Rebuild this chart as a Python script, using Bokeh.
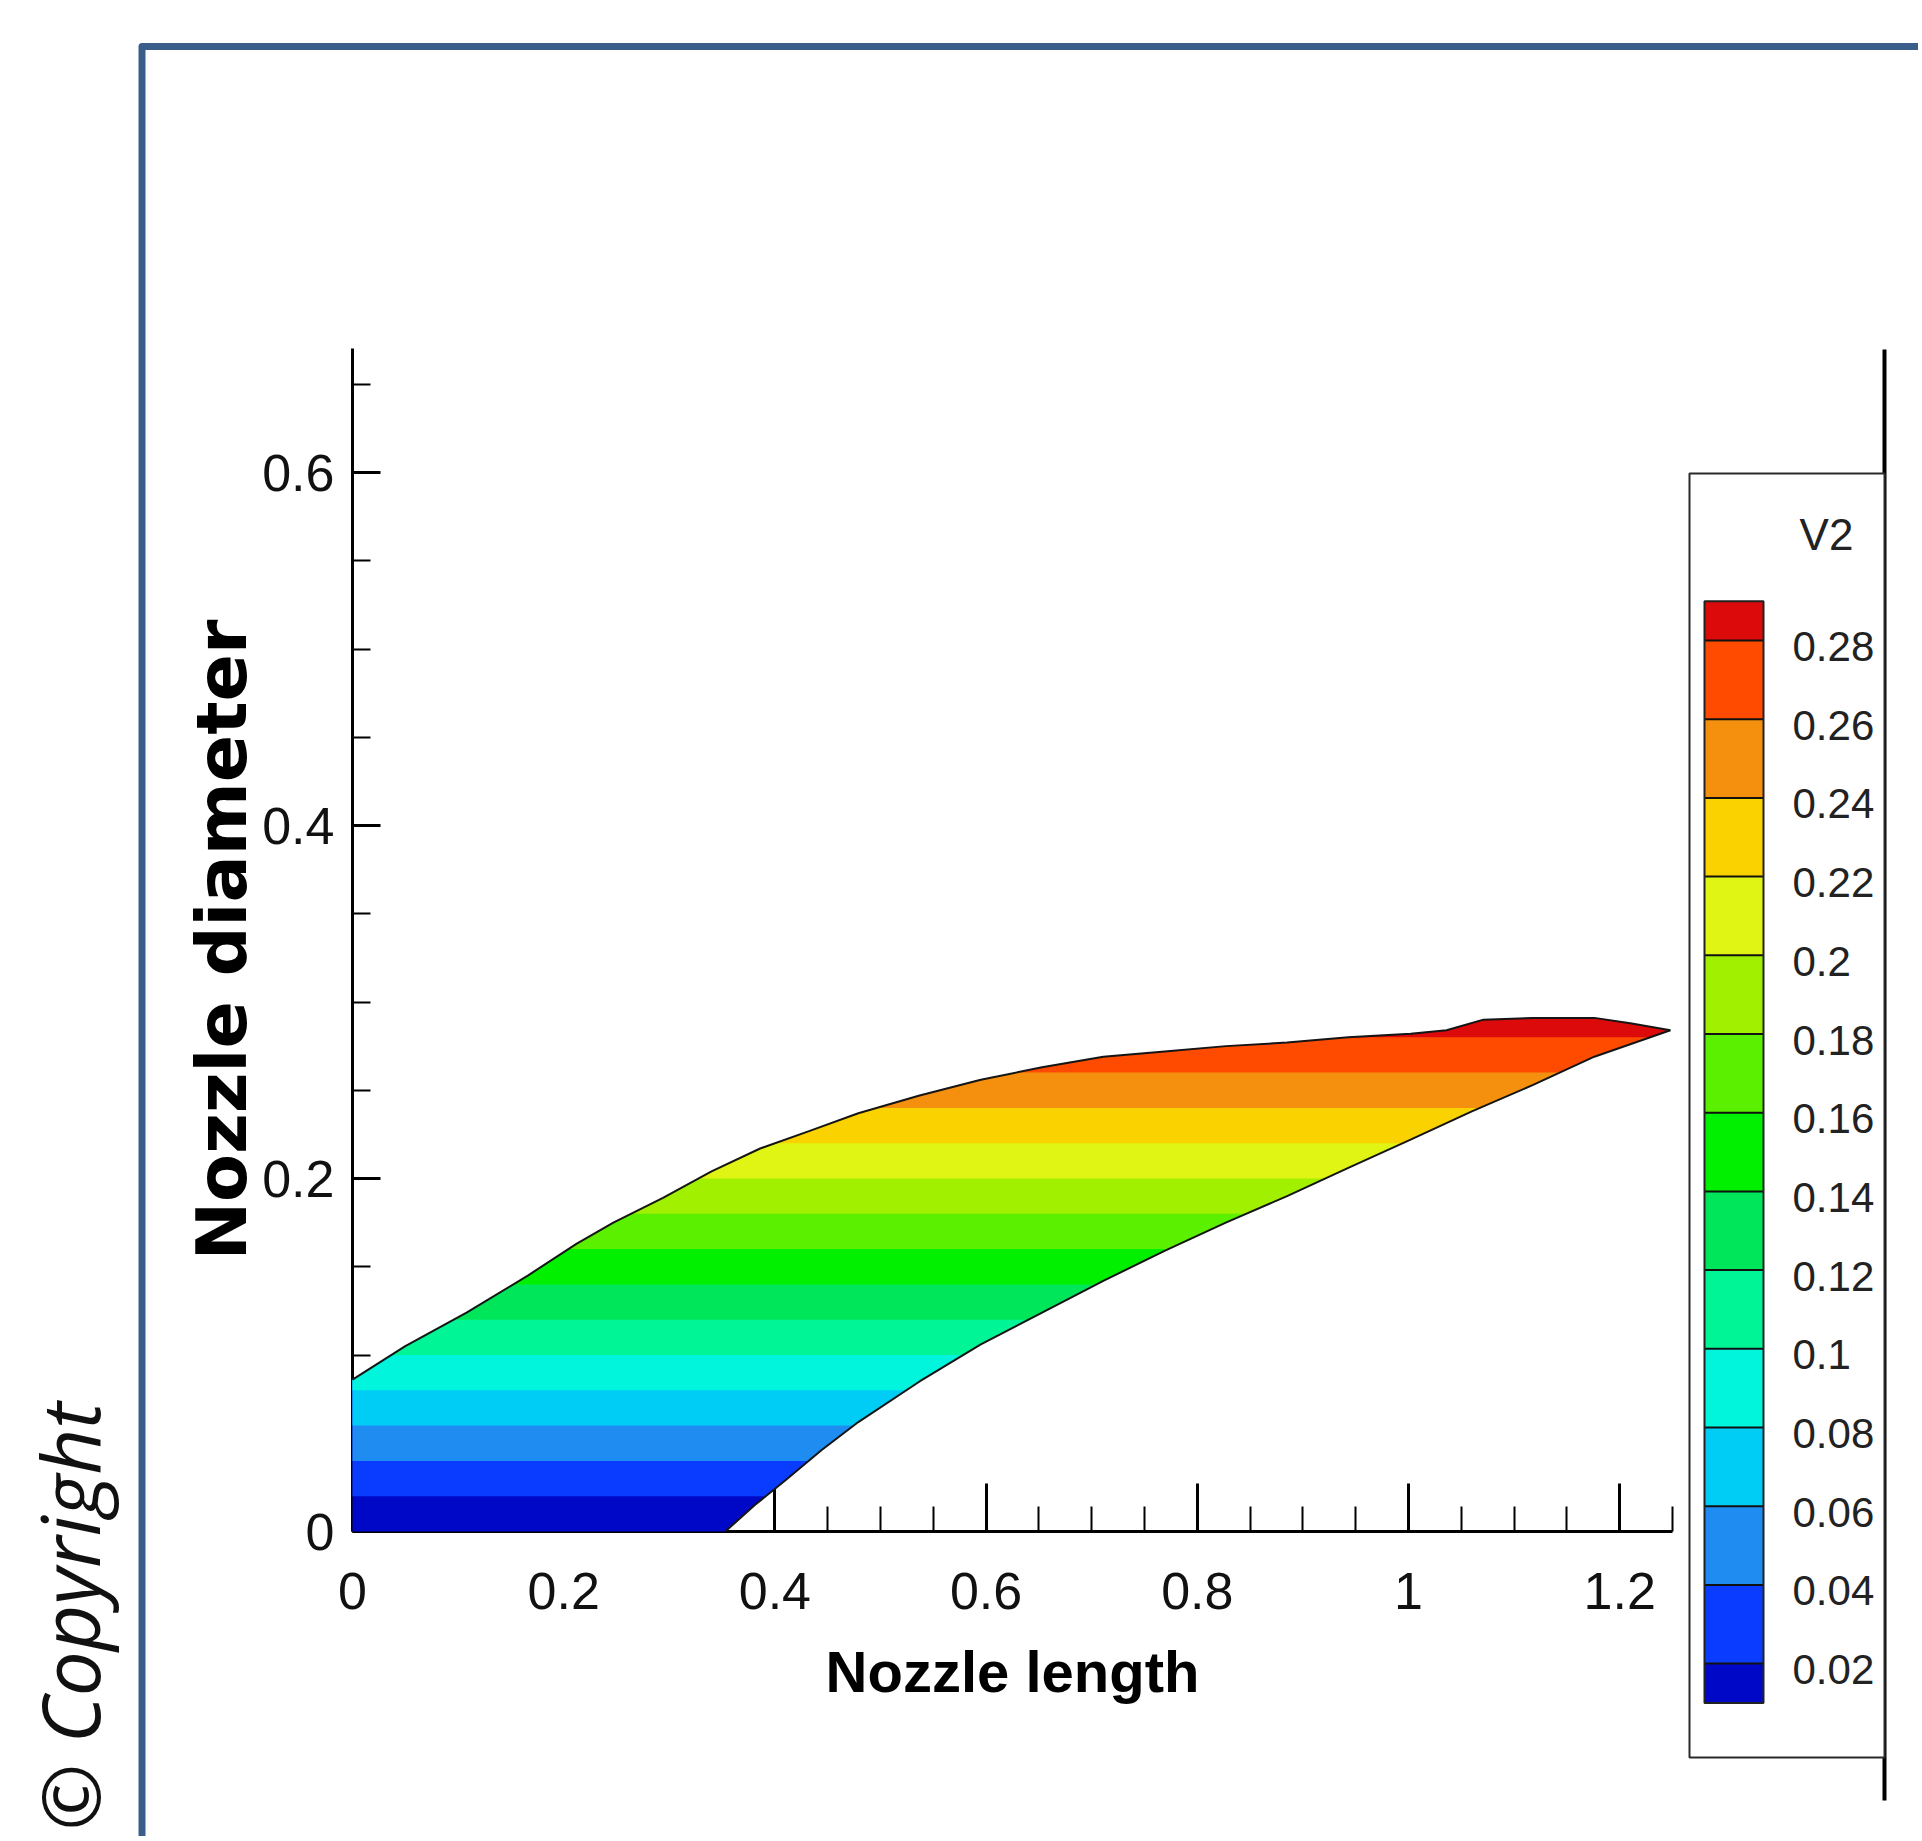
import numpy as np
from bokeh.plotting import figure
from bokeh.models import Range1d, LinearAxis, FixedTicker, Label
from bokeh.embed import file_html
from bokeh.resources import INLINE
from bokeh.core.properties import value

# ---------------- data ----------------
upper_x = [0.000, 0.050, 0.108, 0.166, 0.212, 0.247, 0.294, 0.340, 0.386, 0.433, 0.479,
           0.537, 0.595, 0.653, 0.711, 0.769, 0.827, 0.885, 0.943, 1.002, 1.036, 1.071,
           1.118, 1.176, 1.210, 1.248]
upper_y = [0.086, 0.105, 0.124, 0.145, 0.163, 0.175, 0.189, 0.204, 0.217, 0.227, 0.237,
           0.247, 0.256, 0.263, 0.269, 0.272, 0.275, 0.277, 0.280, 0.282, 0.284, 0.290,
           0.291, 0.291, 0.288, 0.284]
lower_x = [0.353, 0.381, 0.410, 0.444, 0.479, 0.537, 0.595, 0.653, 0.711, 0.769, 0.827,
           0.885, 0.943, 1.002, 1.060, 1.118, 1.176, 1.248]
lower_y = [0.000, 0.015, 0.029, 0.046, 0.062, 0.085, 0.106, 0.124, 0.142, 0.159, 0.175,
           0.190, 0.206, 0.222, 0.238, 0.253, 0.269, 0.284]

levels = [0.02, 0.04, 0.06, 0.08, 0.10, 0.12, 0.14, 0.16, 0.18, 0.20, 0.22, 0.24, 0.26, 0.28]
level_labels = ["0.02", "0.04", "0.06", "0.08", "0.1", "0.12", "0.14", "0.16", "0.18",
                "0.2", "0.22", "0.24", "0.26", "0.28"]
legend_min, legend_max = 0.01, 0.29
band_colors = ["#0008C8", "#0A3CFF", "#1E8CF0", "#00CDF5", "#00F5DC", "#00F596", "#00E65A",
               "#00F000", "#5AF000", "#A0F000", "#E1F514", "#FAD200", "#F5900F", "#FF4B00",
               "#DC0A0A"]

x_ticks = [0, 0.2, 0.4, 0.6, 0.8, 1, 1.2]
x_tick_labels = ["0", "0.2", "0.4", "0.6", "0.8", "1", "1.2"]
y_ticks = [0, 0.2, 0.4, 0.6]
y_tick_labels = ["0", "0.2", "0.4", "0.6"]
x_end, y_end = 1.25, 0.67
minor_step = 0.05

# ---------------- layout (page pixels) ----------------
PAGE = 0
W, H = 1918, 1836
X0, Y0 = 352.0, 1531.0      # page pixel of data origin
SX, SY = 1056.0, 1765.0     # pixels per data unit


def dx(px):
    return (px - X0) / SX


def dy(py):
    return (Y0 - py) / SY


NUM_FONT = "Liberation Sans"

p = figure(width=W, height=H,
           x_range=Range1d(dx(PAGE), dx(PAGE + W)),
           y_range=Range1d(dy(PAGE + H), dy(PAGE)),
           x_axis_type=None, y_axis_type=None,
           toolbar_location=None, output_backend="svg", min_border=0)
p.outline_line_color = None
p.background_fill_color = "white"
p.border_fill_color = "white"

# ---------------- axes ----------------
x_minor = [round(i * minor_step, 2) for i in range(int(round(x_end / minor_step)) + 1)
           if round(i * minor_step, 2) not in x_ticks]
y_minor = [round(i * minor_step, 2) for i in range(int(round(y_end / minor_step)) + 1)
           if round(i * minor_step, 2) not in y_ticks]

xaxis = LinearAxis(fixed_location=0, bounds=(0, x_end),
                   ticker=FixedTicker(ticks=x_ticks, minor_ticks=x_minor),
                   major_label_overrides=dict(zip(x_ticks, x_tick_labels)),
                   axis_label="Nozzle length")
yaxis = LinearAxis(fixed_location=0, bounds=(0, y_end),
                   ticker=FixedTicker(ticks=y_ticks, minor_ticks=y_minor),
                   major_label_overrides=dict(zip(y_ticks, y_tick_labels)),
                   axis_label="Nozzle diameter")
for ax in (xaxis, yaxis):
    ax.level = "underlay"
    ax.axis_line_width = 3
    ax.axis_line_color = "black"
    ax.major_tick_line_width = 3
    ax.minor_tick_line_width = 2
    ax.major_tick_out = 0
    ax.minor_tick_out = 0
    ax.major_label_text_font = NUM_FONT
    ax.major_label_text_font_size = "52px"
    ax.major_label_text_color = "#111111"
    ax.axis_label_text_font_style = "bold"
    ax.axis_label_text_color = "black"

xaxis.major_tick_in = 48
xaxis.minor_tick_in = 25
xaxis.major_label_standoff = 41
xaxis.axis_label_text_font = "Liberation Sans"
xaxis.axis_label_text_font_size = "58px"
xaxis.axis_label_standoff = 27

yaxis.major_tick_in = 28
yaxis.minor_tick_in = 18
yaxis.major_label_standoff = 18
yaxis.axis_label_text_font = "DejaVu Sans"
yaxis.axis_label_text_font_size = "70px"
yaxis.axis_label_standoff = -4

p.add_layout(xaxis, "below")
p.add_layout(yaxis, "left")

# ---------------- flooded contour region ----------------
poly_x = [0.0] + lower_x + upper_x[::-1][1:]
poly_y = [0.0] + lower_y + upper_y[::-1][1:]


def clip_above(xs, ys, c):
    ox, oy = [], []
    n = len(xs)
    for i in range(n):
        xp, yp = xs[i - 1], ys[i - 1]
        xc, yc = xs[i], ys[i]
        pin, cin = yp >= c, yc >= c
        if cin:
            if not pin:
                t = (c - yp) / (yc - yp)
                ox.append(xp + t * (xc - xp)); oy.append(c)
            ox.append(xc); oy.append(yc)
        elif pin:
            t = (c - yp) / (yc - yp)
            ox.append(xp + t * (xc - xp)); oy.append(c)
    return ox, oy


band_lo = [0.0] + levels
patch_xs, patch_ys = [], []
for lo in band_lo:
    cx, cy = clip_above(poly_x, poly_y, lo)
    patch_xs.append(cx)
    patch_ys.append(cy)

p.patches(xs=patch_xs, ys=patch_ys, fill_color=band_colors, line_color=None)
p.line(upper_x, upper_y, line_color="#151515", line_width=2)
p.line(lower_x, lower_y, line_color="#151515", line_width=2)

# ---------------- frame decorations ----------------
BLUE = "#3A5D8A"
p.line(x=[dx(141.5), dx(141.5), dx(1960)], y=[dy(1900), dy(46), dy(46)],
       line_color=BLUE, line_width=7, line_join="round")
p.segment(x0=[dx(1884)], y0=[dy(349)], x1=[dx(1884)], y1=[dy(1800)],
          line_color="black", line_width=4)

# ---------------- legend (colour key) ----------------
LEG_L, LEG_R, LEG_T, LEG_B = 1689, 1884, 473, 1757
BAR_L, BAR_R = 1704, 1763
LEG_Y028, LEG_STEP = 640.0, 78.7


def leg_py(v):
    return LEG_Y028 + (0.28 - v) / 0.02 * LEG_STEP


p.quad(left=[dx(LEG_L)], right=[dx(LEG_R)], top=[dy(LEG_T)], bottom=[dy(LEG_B)],
       fill_color="white", line_color="#2a2a2a", line_width=2)
edges = [legend_min] + levels + [legend_max]
p.quad(left=dx(BAR_L), right=dx(BAR_R),
       bottom=[dy(leg_py(v)) for v in edges[:-1]],
       top=[dy(leg_py(v)) for v in edges[1:]],
       fill_color=band_colors, line_color=None)
p.segment(x0=dx(BAR_L), x1=dx(BAR_R),
          y0=[dy(leg_py(v)) for v in levels], y1=[dy(leg_py(v)) for v in levels],
          line_color="#111111", line_width=2)
p.quad(left=[dx(BAR_L)], right=[dx(BAR_R)], top=[dy(leg_py(legend_max))],
       bottom=[dy(leg_py(legend_min))], fill_color=None, line_color="#222222", line_width=2)
p.text(x=dx(1792), y=[dy(leg_py(v) + 6) for v in levels], text=level_labels,
       text_font=value(NUM_FONT), text_font_size="42px", text_color="#222222",
       text_align="left", text_baseline="middle")
p.text(x=[dx(1826)], y=[dy(534)], text=["V2"], text_font=value(NUM_FONT),
       text_font_size="44px", text_color="#222222", text_align="center",
       text_baseline="middle")

# ---------------- copyright ----------------
p.add_layout(Label(x=dx(68), y=dy(1830), text="© Copyright", angle=90, angle_units="deg",
                   text_font="Open Sans", text_font_style="italic", text_font_size="80px",
                   text_color="#111111", text_align="left", text_baseline="alphabetic"))

open("out.html", "w").write(file_html(p, INLINE))
